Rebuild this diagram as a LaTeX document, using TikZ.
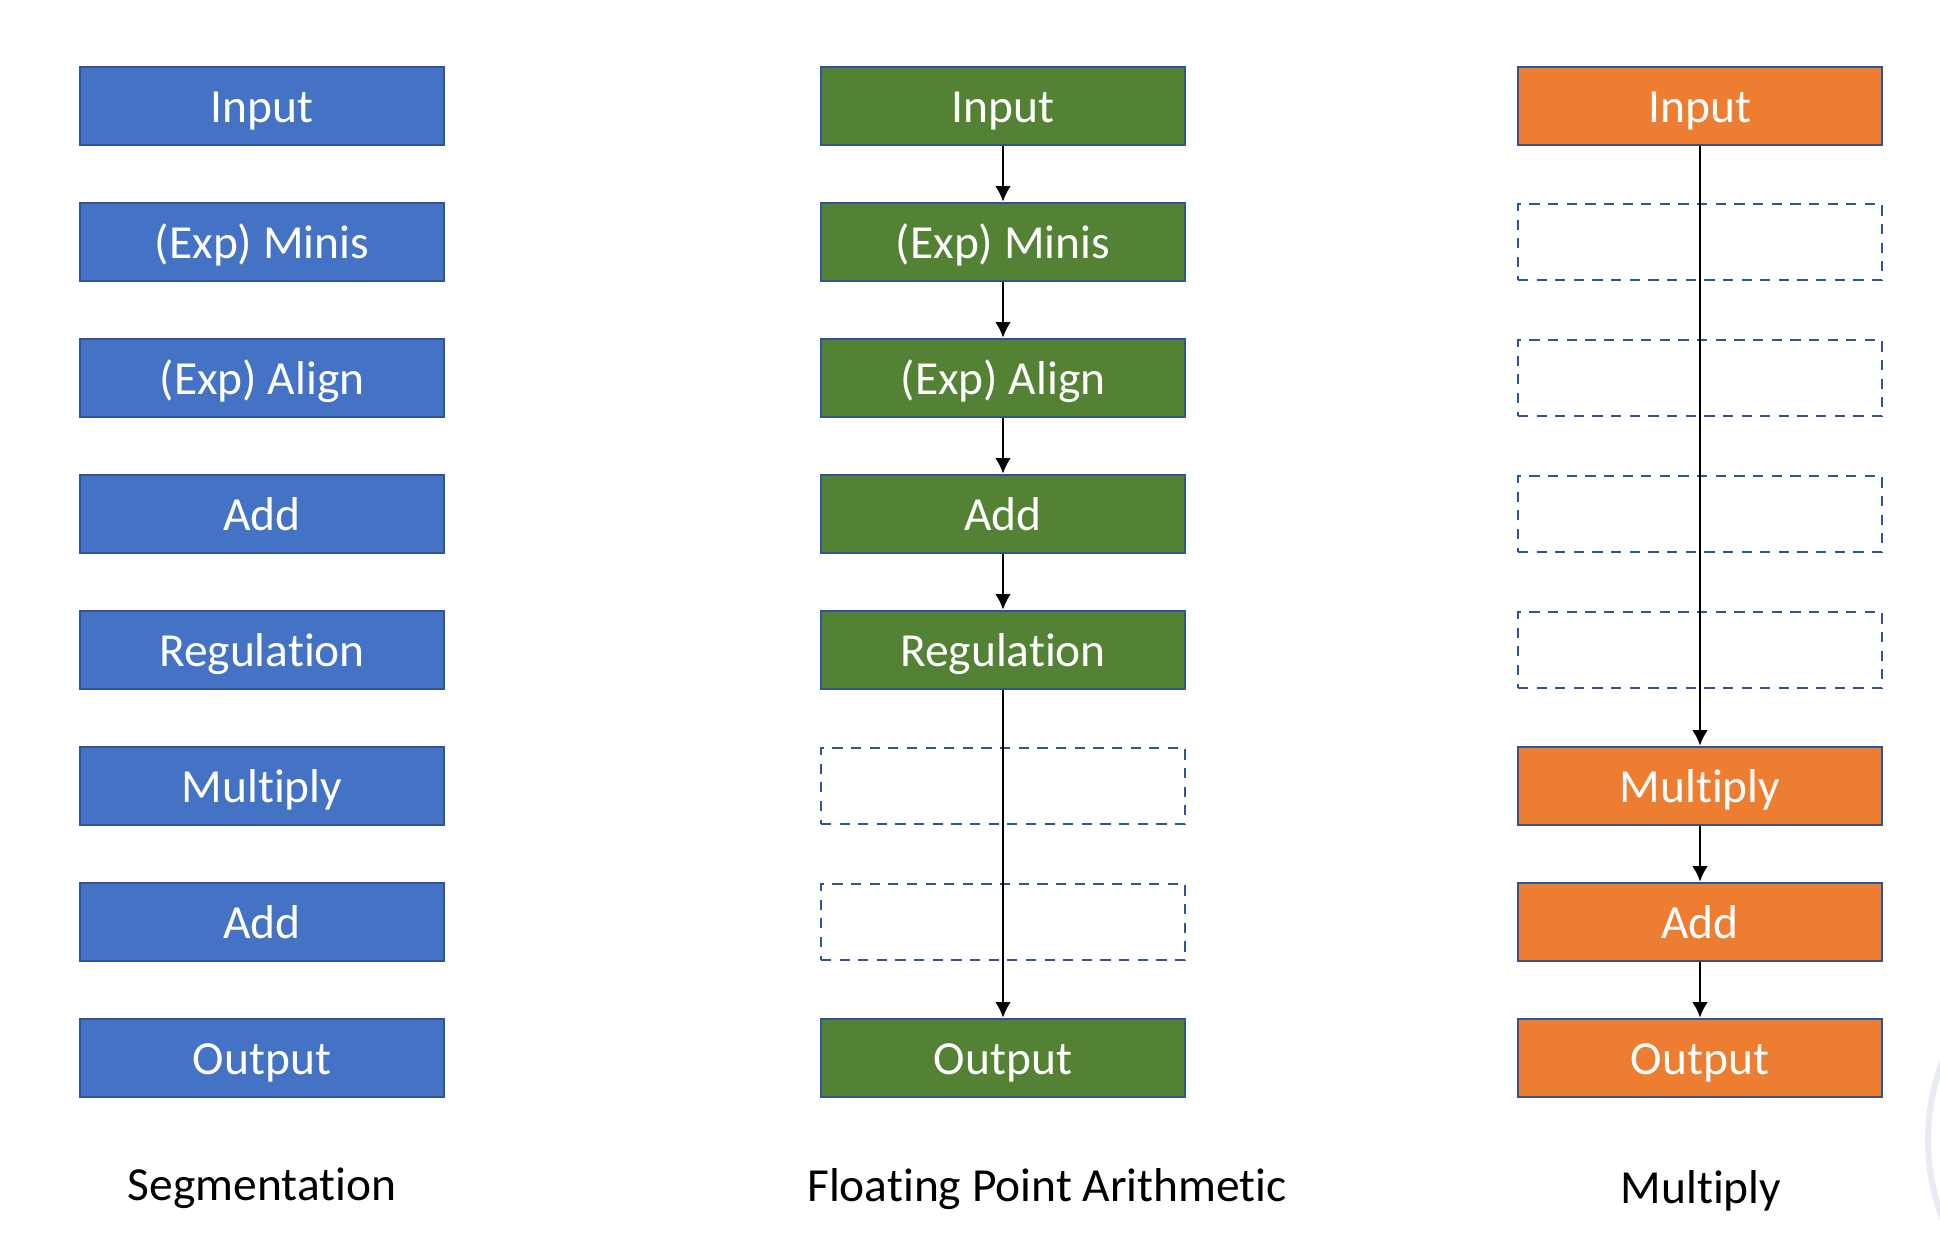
\documentclass[tikz,border=0pt]{standalone}
\usepackage{fontspec}
\setmainfont{Carlito}[Ligatures=NoCommon]
\usetikzlibrary{arrows.meta}
\definecolor{segblue}{HTML}{4472C4}
\definecolor{fpagreen}{HTML}{548235}
\definecolor{mulorange}{HTML}{ED7D31}
\definecolor{edgeblue}{HTML}{2F5597}
\definecolor{arcgray}{HTML}{E8EBF2}

\begin{document}
\begin{tikzpicture}[
			x=0.01cm, y=-0.01cm,
			node style/.style={
				draw=edgeblue,
				line width=0.75pt,
				minimum width=3.64cm,
				minimum height=0.78cm,
				inner sep=0pt,
				text height=0.33cm,
				text depth=0cm,
				text=white,
				font=\fontsize{13.5}{16}\selectfont
			},
			empty style/.style={
				draw=edgeblue,
				line width=0.75pt,
				dash pattern=on 2.9pt off 2.4pt,
				minimum width=3.64cm,
				minimum height=0.76cm,
				inner sep=0pt
			},
			label style/.style={
				anchor=base,
				font=\fontsize{13.5}{16}\selectfont
			},
			>={Latex[length=4.4pt,width=4.4pt]}
			]
			
			\useasboundingbox (0,0) rectangle (1940,1232);
			
			% Segmentation
			\node[node style, fill=segblue] (S1) at (262,106) {Input};
			\node[node style, fill=segblue] (S2) at (262,242) {(Exp) Minis};
			\node[node style, fill=segblue] (S3) at (262,378) {(Exp) Align};
			\node[node style, fill=segblue] (S4) at (262,514) {Add};
			\node[node style, fill=segblue] (S5) at (262,650) {Regulation};
			\node[node style, fill=segblue] (S6) at (262,786) {Multiply};
			\node[node style, fill=segblue] (S7) at (262,922) {Add};
			\node[node style, fill=segblue] (S8) at (262,1058) {Output};
			\node[label style] (Sname) at (262,1200) {Segmentation};
			
			% Floating point arithmetic
			\node[node style, fill=fpagreen] (F1) at (1003,106) {Input};
			\node[node style, fill=fpagreen] (F2) at (1003,242) {(Exp) Minis};
			\node[node style, fill=fpagreen] (F3) at (1003,378) {(Exp) Align};
			\node[node style, fill=fpagreen] (F4) at (1003,514) {Add};
			\node[node style, fill=fpagreen] (F5) at (1003,650) {Regulation};
			\node[empty style] (F6) at (1003,786) {};
			\node[empty style] (F7) at (1003,922) {};
			\node[node style, fill=fpagreen] (F8) at (1003,1058) {Output};
			\node[label style] (Fname) at (1047,1201) {Floating Point Arithmetic};
			
			% Multiply
			\node[node style, fill=mulorange] (M1) at (1700,106) {Input};
			\node[empty style] (M2) at (1700,242) {};
			\node[empty style] (M3) at (1700,378) {};
			\node[empty style] (M4) at (1700,514) {};
			\node[empty style] (M5) at (1700,650) {};
			\node[node style, fill=mulorange] (M6) at (1700,786) {Multiply};
			\node[node style, fill=mulorange] (M7) at (1700,922) {Add};
			\node[node style, fill=mulorange] (M8) at (1700,1058) {Output};
			\node[label style] (Mname) at (1701,1203) {Multiply};
			
			\draw[->, line width=0.57pt] (F1) -- (F2);
			\draw[->, line width=0.57pt] (F2) -- (F3);
			\draw[->, line width=0.57pt] (F3) -- (F4);
			\draw[->, line width=0.57pt] (F4) -- (F5);
			\draw[->, line width=0.57pt] (F5) -- (F8);
			
			\draw[->, line width=0.57pt] (M1) -- (M6);
			\draw[->, line width=0.57pt] (M6) -- (M7);
			\draw[->, line width=0.57pt] (M7) -- (M8);
			
			% faint arc at the corner
			\begin{scope}
				\clip (0,0) rectangle (1940,1232);
				\draw[arcgray, line width=1.7pt] (2150,1140) circle [radius=222];
			\end{scope}
			
		\end{tikzpicture}
\end{document}
